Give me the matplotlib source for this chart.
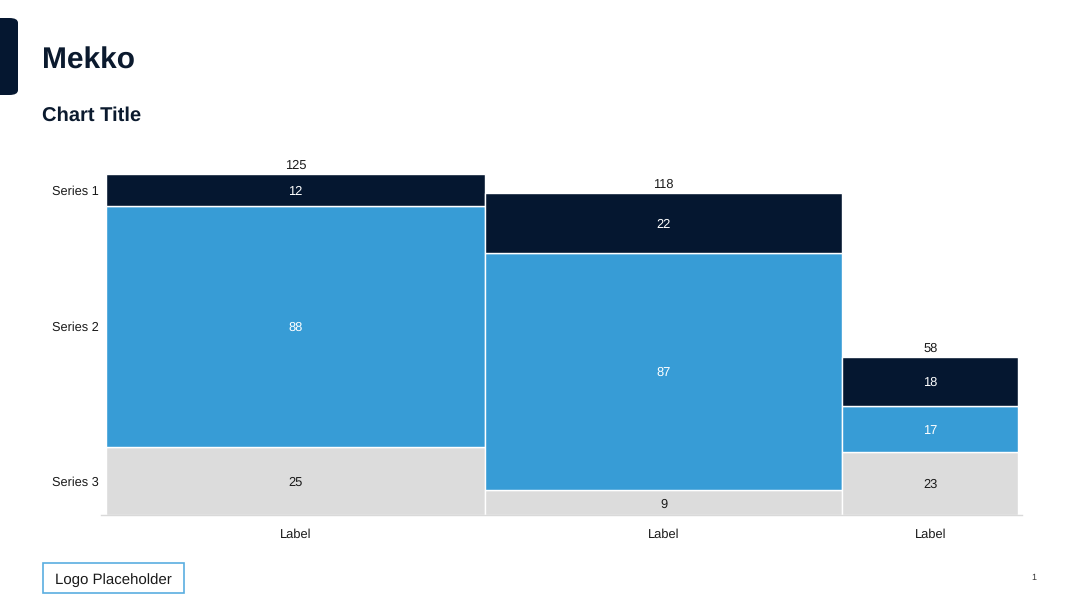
import matplotlib
matplotlib.use("Agg")
import matplotlib.pyplot as plt
from matplotlib.patches import FancyBboxPatch, Rectangle
import numpy as np

plt.rcParams['font.family'] = ['Liberation Sans', 'DejaVu Sans']
plt.rcParams['text.hinting'] = 'no_hinting'

categories = ["Label", "Label", "Label"]
series_names = ["Series 1", "Series 2", "Series 3"]
series1 = [12, 22, 18]
series2 = [88, 87, 17]
series3 = [25, 9, 23]

colors = {"Series 1": "#051730", "Series 2": "#379cd6", "Series 3": "#dcdcdc"}
text_colors = {"Series 1": "white", "Series 2": "white", "Series 3": "#1a1a1a"}

W, H = 1080, 608
fig = plt.figure(figsize=(W / 100, H / 100), dpi=100)

# axes placement in pixels
ax_left, ax_right = 101, 1022
ax_bottom, ax_top = 515, 160
ax = fig.add_axes([ax_left / W, 1 - ax_bottom / H, (ax_right - ax_left) / W, (ax_bottom - ax_top) / H])

vals = {"Series 1": series1, "Series 2": series2, "Series 3": series3}
totals = [a + b + c for a, b, c in zip(series1, series2, series3)]
grand = sum(totals)

stack_order = ["Series 3", "Series 2", "Series 1"]
x0 = 0.0
centers = []
for i, tot in enumerate(totals):
    bottom = 0.0
    for s in stack_order:
        v = vals[s][i]
        ax.add_patch(Rectangle((x0, bottom), tot, v, facecolor=colors[s],
                               edgecolor="white", linewidth=1.0))
        ax.text(x0 + tot / 2, bottom + v / 2, str(v), ha="center", va="center_baseline",
                fontsize=9.3, color=text_colors[s])
        if i == 0:
            ax.text(-2.5, bottom + v / 2, s, ha="right", va="center_baseline",
                    fontsize=9.2, color="#1a1a1a")
        bottom += v
    ax.text(x0 + tot / 2, tot + 3.5, str(tot), ha="center", va="center_baseline",
            fontsize=9.3, color="#1a1a1a")
    centers.append(x0 + tot / 2)
    x0 += tot

ax.set_xlim(-1.65, grand + 1.3)
ax.set_ylim(0, 130)
ax.set_xticks(centers)
ax.set_xticklabels(categories, fontsize=9.3, color="#1a1a1a")
ax.tick_params(axis="x", length=0, pad=10)
ax.set_yticks([])
for sp in ["top", "right", "left"]:
    ax.spines[sp].set_visible(False)
ax.spines["bottom"].set_color("#d9d9d9")
ax.spines["bottom"].set_linewidth(1.0)

# Header decorations
fig.patches.append(FancyBboxPatch((-10 / W, 1 - 95 / H), 28 / W, 77 / H,
                                  boxstyle="round,pad=0,rounding_size=0.008",
                                  transform=fig.transFigure, facecolor="#051730",
                                  edgecolor="none"))
fig.text(42 / W, 1 - 58 / H, "Mekko", fontsize=21.5, fontweight="bold",
         color="#0b1a2e", ha="left", va="center_baseline")
fig.text(42 / W, 1 - 114 / H, "Chart Title", fontsize=14.5, fontweight="bold",
         color="#0b1a2e", ha="left", va="center_baseline")

# Logo placeholder
fig.patches.append(Rectangle((43 / W, 1 - 593 / H), 141 / W, 30 / H,
                             transform=fig.transFigure, facecolor="white",
                             edgecolor="#5aaee0", linewidth=1.2))
fig.text(113.5 / W, 1 - 578 / H, "Logo Placeholder", fontsize=10.8,
         color="#1a1a1a", ha="center", va="center_baseline")

fig.text(1034 / W, 1 - 577 / H, "1", fontsize=6.5, color="#333333",
         ha="center", va="center_baseline")

fig.savefig("out.png", dpi=100)
